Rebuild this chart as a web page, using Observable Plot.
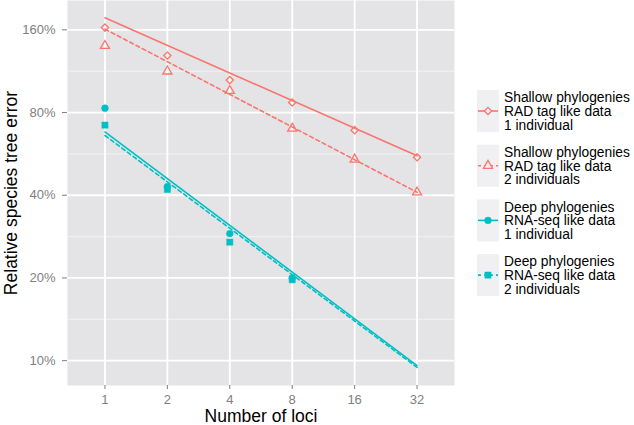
<!DOCTYPE html>
<html>
<head>
<meta charset="utf-8">
<script src="https://cdn.jsdelivr.net/npm/d3@7"></script>
<script src="https://cdn.jsdelivr.net/npm/@observablehq/plot@0.6"></script>
<style>
  html, body { margin: 0; padding: 0; background: white; }
  #wrap { position: relative; width: 634px; height: 425px; font-family: "Liberation Sans", Arial, sans-serif; }
  #chart { position: absolute; left: 0; top: 0; }
  #legend { position: absolute; left: 470px; top: 0; }
</style>
</head>
<body>
<div id="wrap"><div id="chart"></div><div id="legend"></div></div>
<script>
// ---- data ----
const loci = [1, 2, 4, 8, 16, 32];
const yTicks = [10, 20, 40, 80, 160];
const yMinor = [14.14, 28.28, 56.57, 113.1];

const shallow1 = [163, 129, 105, 87, 69, 55];
const shallow2 = [140, 113, 96, 70, 54, 41];
const deepLoci = [1, 2, 4, 8];
const deep1 = [83, 43, 29, 20];
const deep2 = [72, 42, 27, 19.7];

// fitted lines (values at 1 and 32 loci)
const fitLoci = [1, 32];
const shallow1Fit = [177, 55.7];
const shallow2Fit = [161, 41];
const deep1Fit = [68, 9.6];
const deep2Fit = [66, 9.45];

const seriesLabels = [
  ["Shallow phylogenies", "RAD tag like data", "1 individual"],
  ["Shallow phylogenies", "RAD tag like data", "2 individuals"],
  ["Deep phylogenies", "RNA-seq like data", "1 individual"],
  ["Deep phylogenies", "RNA-seq like data", "2 individuals"]
];

const salmon = "#F8766D", teal = "#00BFC4";
const series = [
  {vals: shallow1, xs: loci, fit: shallow1Fit, color: salmon, symbol: "diamond2", filled: false, dash: null, r: 3.3},
  {vals: shallow2, xs: loci, fit: shallow2Fit, color: salmon, symbol: "triangle", filled: false, dash: "4,3", r: 3.4},
  {vals: deep1, xs: deepLoci, fit: deep1Fit, color: teal, symbol: "circle", filled: true, dash: null, r: 3.4},
  {vals: deep2, xs: deepLoci, fit: deep2Fit, color: teal, symbol: "square", filled: true, dash: "4,3", r: 3.5}
];

const marks = [
  Plot.frame({fill: "#E4E4E6", stroke: null}),
  Plot.ruleY(yMinor, {stroke: "#F2F2F4", strokeWidth: 1}),
  Plot.ruleY(yTicks, {stroke: "white", strokeWidth: 1.8}),
  Plot.ruleX(loci, {stroke: "white", strokeWidth: 1.8}),
];
series.forEach(s => {
  const fitData = fitLoci.map((x, i) => ({x, y: s.fit[i]}));
  marks.push(Plot.line(fitData, {x: "x", y: "y", stroke: s.color, strokeWidth: 1.6,
    strokeDasharray: s.dash || undefined}));
});
series.forEach(s => {
  const pts = s.xs.map((x, i) => ({x, y: s.vals[i]}));
  marks.push(Plot.dot(pts, {x: "x", y: "y", symbol: s.symbol, r: s.r,
    fill: s.filled ? s.color : "none", stroke: s.color, strokeWidth: s.filled ? 0.5 : 1.3}));
});
marks.push(
  Plot.axisX({ticks: loci, tickFormat: d => String(d), tickSize: 4, tickPadding: 5,
    stroke: "#7f7f7f", fill: "#7f7f7f", label: null, fontSize: 13}),
  Plot.axisY({ticks: yTicks, tickFormat: d => d + "%", tickSize: 5, tickPadding: 7,
    stroke: "#7f7f7f", fill: "#7f7f7f", label: null, fontSize: 13}),
  Plot.text(["Number of loci"], {frameAnchor: "bottom", lineAnchor: "middle", textAnchor: "middle", dy: 31,
    fontSize: 17.5, fill: "black", text: d => d}),
  Plot.text(["Relative species tree error"], {frameAnchor: "left", lineAnchor: "middle", textAnchor: "middle", dx: -56,
    rotate: -90, fontSize: 17.5, fill: "black", text: d => d})
);

const chart = Plot.plot({
  width: 460, height: 425,
  marginLeft: 67, marginRight: 6, marginTop: 0, marginBottom: 40,
  style: {background: "transparent", fontFamily: "Liberation Sans, Arial, sans-serif", fontSize: "13px", overflow: "visible"},
  x: {type: "log", base: 2, domain: [Math.pow(2, -0.6), Math.pow(2, 5.6)]},
  y: {type: "log", domain: [8.12, 204.6]},
  marks
});
document.getElementById("chart").appendChild(chart);

// ---- legend ----
const lw = 164, lh = 425;
const svg = d3.select("#legend").append("svg").attr("width", lw).attr("height", lh)
  .style("font-family", "Liberation Sans, Arial, sans-serif");
const symMap = {diamond2: d3.symbolDiamond2, triangle: d3.symbolTriangle, circle: d3.symbolCircle, square: d3.symbolSquare};
series.forEach((s, i) => {
  const cy = 111 + 54.7 * i;
  const g = svg.append("g");
  g.append("rect").attr("x", 7).attr("y", cy - 21).attr("width", 22).attr("height", 42)
    .attr("fill", "#F0F0F2");
  g.append("line").attr("x1", 8).attr("x2", 28).attr("y1", cy).attr("y2", cy)
    .attr("stroke", s.color).attr("stroke-width", 1.6)
    .attr("stroke-dasharray", s.dash ? "3,3" : null);
  g.append("path").attr("transform", `translate(18,${cy})`)
    .attr("d", d3.symbol(symMap[s.symbol], Math.PI * s.r * s.r)())
    .attr("fill", s.filled ? s.color : "#F0F0F2").attr("stroke", s.color)
    .attr("stroke-width", s.filled ? 0.5 : 1.3);
  seriesLabels[i].forEach((t, j) => {
    g.append("text").attr("x", 34).attr("y", cy + (j - 1) * 13.8).attr("dy", "0.36em")
      .attr("font-size", 13.8).attr("fill", "black").text(t);
  });
});
</script>
</body>
</html>
